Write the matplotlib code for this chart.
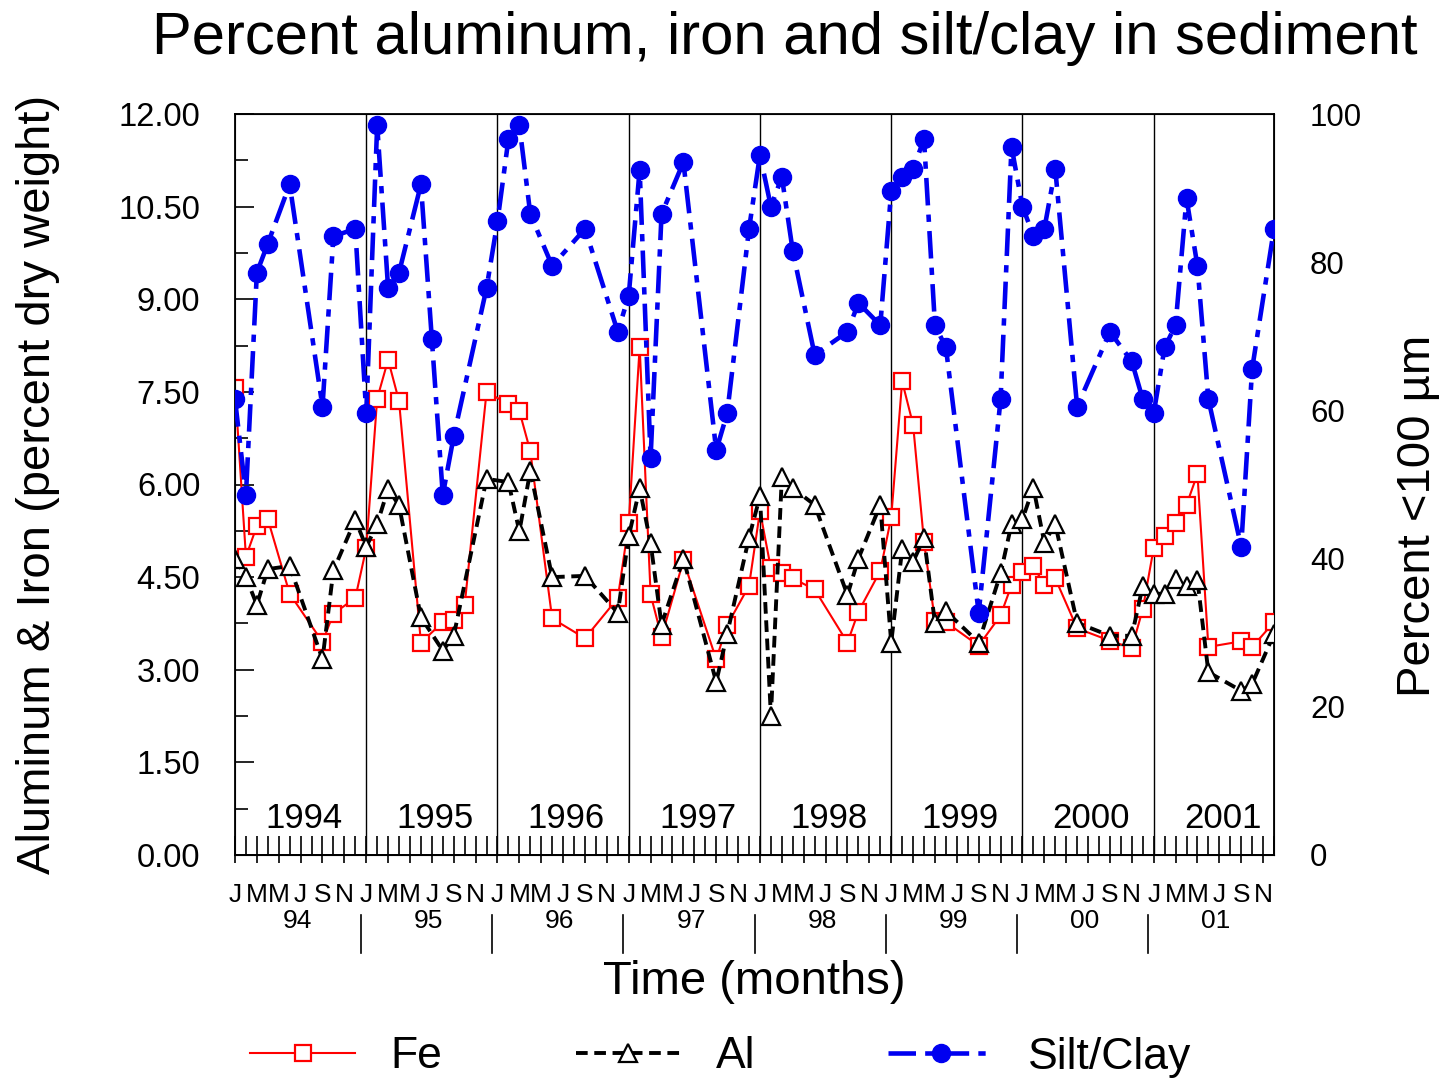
import numpy as np
import matplotlib
matplotlib.use('Agg')
import matplotlib.pyplot as plt
from matplotlib.ticker import FixedLocator, FormatStrFormatter

plt.rcParams['font.family'] = ['Liberation Sans', 'DejaVu Sans']

# months counted from Jan 1994 (0) to Dec 2001 (95)
fe_month = [0, 1, 2, 3, 5, 8, 9, 11,
            12, 13, 14, 15, 17, 19, 20, 21, 23,
            25, 26, 27, 29, 32, 35,
            36, 37, 38, 39, 41, 44, 45, 47,
            48, 49, 50, 51, 53, 56, 57, 59,
            60, 61, 62, 63, 64, 65, 68, 70, 71,
            72, 73, 74, 75, 77, 80, 82, 83,
            84, 85, 86, 87, 88, 89, 92, 93, 95]
fe_pct = [7.57, 4.83, 5.33, 5.44, 4.23, 3.45, 3.91, 4.16,
          4.97, 7.39, 8.02, 7.35, 3.44, 3.77, 3.80, 4.05, 7.50,
          7.30, 7.19, 6.54, 3.83, 3.51, 4.16,
          5.37, 8.23, 4.22, 3.53, 4.77, 3.17, 3.72, 4.36,
          5.57, 4.64, 4.56, 4.48, 4.30, 3.44, 3.94, 4.60,
          5.47, 7.67, 6.97, 5.07, 3.79, 3.77, 3.39, 3.88, 4.37,
          4.59, 4.68, 4.37, 4.48, 3.67, 3.47, 3.35, 3.98,
          4.97, 5.16, 5.37, 5.67, 6.17, 3.37, 3.46, 3.37, 3.77]

al_month = [0, 1, 2, 3, 5, 8, 9, 11,
            12, 13, 14, 15, 17, 19, 20, 23,
            25, 26, 27, 29, 32, 35,
            36, 37, 38, 39, 41, 44, 45, 47,
            48, 49, 50, 51, 53, 56, 57, 59,
            60, 61, 62, 63, 64, 65, 68, 70, 71,
            72, 73, 74, 75, 77, 80, 82, 83,
            84, 85, 86, 87, 88, 89, 92, 93, 95]
al_pct = [4.80, 4.50, 4.05, 4.63, 4.68, 3.17, 4.61, 5.43,
          4.99, 5.36, 5.93, 5.66, 3.85, 3.31, 3.55, 6.09,
          6.04, 5.24, 6.22, 4.50, 4.52, 3.92,
          5.16, 5.94, 5.05, 3.73, 4.80, 2.80, 3.58, 5.14,
          5.81, 2.25, 6.12, 5.94, 5.67, 4.21, 4.80, 5.67,
          3.44, 4.95, 4.75, 5.13, 3.76, 3.95, 3.44, 4.56, 5.36,
          5.44, 5.95, 5.06, 5.36, 3.76, 3.55, 3.55, 4.36,
          4.23, 4.23, 4.47, 4.36, 4.45, 2.96, 2.66, 2.77, 3.58]

silt_month = [0, 1, 2, 3, 5, 8, 9, 11,
              12, 13, 14, 15, 17, 18, 19, 20, 23,
              24, 25, 26, 27, 29, 32, 35,
              36, 37, 38, 39, 41, 44, 45, 47,
              48, 49, 50, 51, 53, 56, 57, 59,
              60, 61, 62, 63, 64, 65, 68, 70, 71,
              72, 73, 74, 75, 77, 80, 82, 83,
              84, 85, 86, 87, 88, 89, 92, 93, 95]
silt_pct = [61.5, 48.6, 78.6, 82.5, 90.5, 60.5, 83.5, 84.5,
            59.6, 98.5, 76.5, 78.6, 90.5, 69.6, 48.6, 56.5, 76.5,
            85.5, 96.6, 98.5, 86.5, 79.5, 84.5, 70.6,
            75.5, 92.5, 53.6, 86.5, 93.5, 54.6, 59.6, 84.5,
            94.5, 87.5, 91.5, 81.5, 67.5, 70.6, 74.5, 71.5,
            89.6, 91.5, 92.6, 96.6, 71.5, 68.5, 32.7, 61.5, 95.6,
            87.5, 83.6, 84.5, 92.6, 60.5, 70.6, 66.6, 61.5,
            59.6, 68.5, 71.5, 88.6, 79.5, 61.5, 41.6, 65.6, 84.5]

years = ['1994', '1995', '1996', '1997', '1998', '1999', '2000', '2001']
year_short = ['94', '95', '96', '97', '98', '99', '00', '01']
month_letters = ['J', 'M', 'M', 'J', 'S', 'N']

W, H = 1449, 1082
fig = plt.figure(figsize=(W / 100, H / 100), dpi=100)
ax = fig.add_axes([235 / W, 227 / H, 1039 / W, 741 / H])
ax2 = ax.twinx()

# year separators inside the plot
for k in range(1, 8):
    ax.axvline(12 * k, color='black', lw=1.0, zorder=1)

ax.plot(fe_month, fe_pct, color='red', lw=1.5, marker='s', ms=12,
        mfc='white', mec='red', mew=1.6, label='Fe', zorder=3)
ax.plot(al_month, al_pct, color='black', lw=2.8, dashes=(3, 1.7), marker='^', ms=13.5,
        mfc='white', mec='black', mew=1.6, label='Al', zorder=4)
ax2.plot(silt_month, silt_pct, color='#0000f0', lw=3.3, dashes=(6, 2, 1.6, 2), marker='o',
         ms=13, mfc='#0000f0', mec='#0000f0', label='Silt/Clay', zorder=5)

ax.set_xlim(0, 95)
ax.set_ylim(0, 12)
ax2.set_ylim(0, 100)

for s in ax.spines.values():
    s.set_linewidth(1.3)

# left axis
ax.set_yticks(np.arange(0, 12.01, 1.5))
ax.yaxis.set_major_formatter(FormatStrFormatter('%.2f'))
ax.yaxis.set_minor_locator(FixedLocator(np.arange(0.75, 12, 1.5)))
ax.tick_params(axis='y', which='major', direction='in', length=13.7, width=1.2,
               labelsize=23.5, pad=25)
ax.tick_params(axis='y', which='minor', direction='in', length=9.4, width=1.2)

# bottom axis: every month inside, every second month outside with letters
ax.set_xticks(range(96))
ax.tick_params(axis='x', which='major', direction='in', length=13.7, width=1.2,
               labelbottom=False)
sec = ax.secondary_xaxis('bottom')
sec.set_xticks(range(0, 96, 2), [month_letters[i % 6] for i in range(48)])
sec.tick_params(direction='out', length=6, width=1.2, labelsize=19, pad=14)
sec.spines['bottom'].set_linewidth(1.3)

# right axis
ax2.set_yticks(range(0, 101, 20))
ax2.tick_params(axis='y', length=0, labelsize=22.5, pad=26)

# year labels inside plot
for k, yr in enumerate(years):
    ax.text(6.3 + 12 * k, 0.44, yr, ha='center', va='baseline', fontsize=25)

# two-digit years and separators below the axis
xt = ax.get_xaxis_transform()
for k, yr in enumerate(year_short):
    ax.text(5.7 + 12 * k, (855 - 928) / 741, yr, ha='center', va='baseline',
            fontsize=19, transform=xt)
for k in range(7):
    ax.plot([11.5 + 12 * k] * 2, [(855 - 915) / 741, (855 - 953) / 741],
            color='black', lw=1.2, transform=xt, clip_on=False)

fig.text(784.5 / W, 1 - 38 / H, 'Percent aluminum, iron and silt/clay in sediment',
         ha='center', va='center', fontsize=43)
fig.text(38 / W, 1 - 484 / H, 'Aluminum & Iron (percent dry weight)', rotation=90,
         ha='center', va='center', fontsize=34)
fig.text(1418 / W, 1 - 516 / H, 'Percent <100 µm', rotation=90,
         ha='center', va='center', fontsize=34)
fig.text(754 / W, 1 - 982 / H, 'Time (months)', ha='center', va='center', fontsize=34)

h1, l1 = ax.get_legend_handles_labels()
h2, l2 = ax2.get_legend_handles_labels()
fig.legend(h1 + h2, l1 + l2, loc='center', bbox_to_anchor=(721 / W, 1 - 1057 / H),
           ncol=3, frameon=False, fontsize=32, handlelength=2.35, handletextpad=0.8,
           columnspacing=3.0, numpoints=1)

fig.savefig('out.png', dpi=100)
